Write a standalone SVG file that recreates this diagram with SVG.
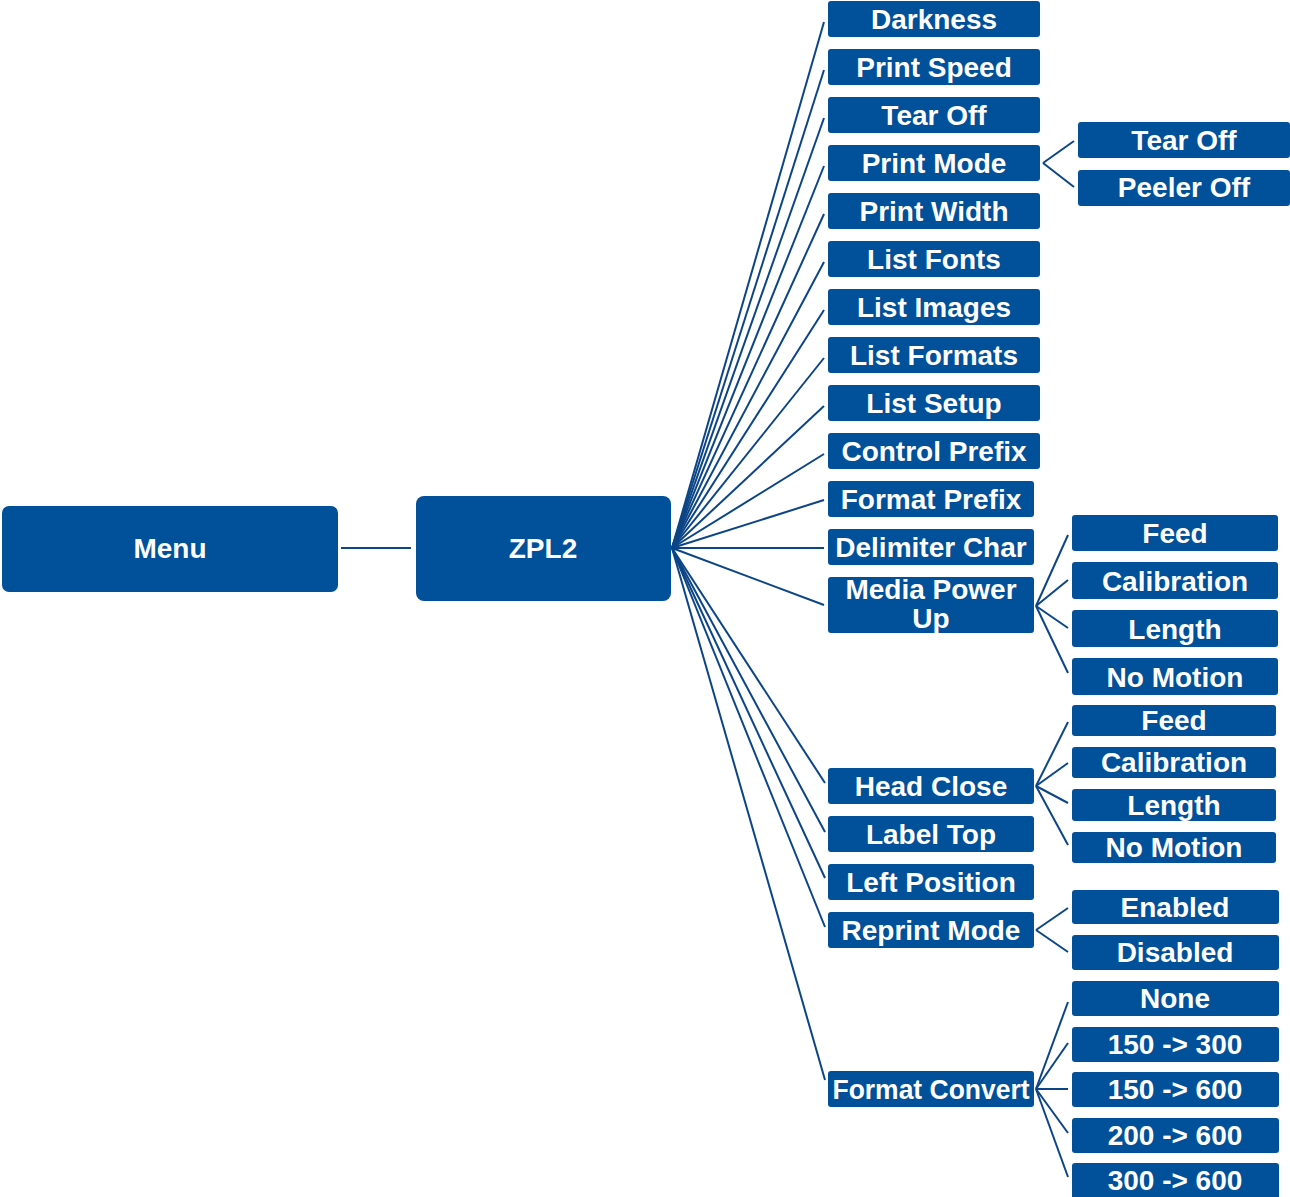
<svg xmlns="http://www.w3.org/2000/svg" width="1290" height="1197" viewBox="0 0 1290 1197">
<style>
.n{fill:#00509A}
.t{fill:#fff;font-family:"Liberation Sans",Arial,sans-serif;font-weight:bold;font-size:28px;text-anchor:middle}
.c line{stroke:#0C4586;stroke-width:2;fill:none}
</style>
<rect width="1290" height="1197" fill="#fff"/>
<g class="c" id="connectors">
<line x1="341" y1="548" x2="411" y2="548"/>
<line x1="672" y1="548" x2="824" y2="22"/>
<line x1="672" y1="548" x2="824" y2="70"/>
<line x1="672" y1="548" x2="824" y2="118"/>
<line x1="672" y1="548" x2="824" y2="166"/>
<line x1="672" y1="548" x2="824" y2="214"/>
<line x1="672" y1="548" x2="824" y2="262"/>
<line x1="672" y1="548" x2="824" y2="310"/>
<line x1="672" y1="548" x2="824" y2="358"/>
<line x1="672" y1="548" x2="824" y2="406"/>
<line x1="672" y1="548" x2="824" y2="454"/>
<line x1="672" y1="548" x2="824" y2="500"/>
<line x1="672" y1="548" x2="824" y2="548"/>
<line x1="672" y1="548" x2="824" y2="605"/>
<line x1="672" y1="548" x2="825" y2="783"/>
<line x1="672" y1="548" x2="825" y2="832"/>
<line x1="672" y1="548" x2="825" y2="878"/>
<line x1="672" y1="548" x2="825" y2="927"/>
<line x1="672" y1="548" x2="825" y2="1080"/>
<line x1="1043" y1="163" x2="1074" y2="141"/>
<line x1="1043" y1="163" x2="1074" y2="187"/>
<line x1="1036" y1="606" x2="1068" y2="535"/>
<line x1="1036" y1="606" x2="1068" y2="580"/>
<line x1="1036" y1="606" x2="1068" y2="628"/>
<line x1="1036" y1="606" x2="1068" y2="673"/>
<line x1="1036" y1="786" x2="1068" y2="722"/>
<line x1="1036" y1="786" x2="1068" y2="763"/>
<line x1="1036" y1="786" x2="1068" y2="803"/>
<line x1="1036" y1="786" x2="1068" y2="845"/>
<line x1="1036" y1="930" x2="1068" y2="908"/>
<line x1="1036" y1="930" x2="1068" y2="952"/>
<line x1="1036" y1="1089" x2="1068" y2="1002"/>
<line x1="1036" y1="1089" x2="1068" y2="1043"/>
<line x1="1036" y1="1089" x2="1068" y2="1089"/>
<line x1="1036" y1="1089" x2="1068" y2="1133"/>
<line x1="1036" y1="1089" x2="1068" y2="1177"/>
</g>
<g id="menu"><rect class="n" x="2" y="506" width="336" height="86" rx="7"/><text class="t" x="170" y="558">Menu</text></g>
<g id="zpl2"><rect class="n" x="416" y="496" width="255" height="105" rx="8"/><text class="t" x="543" y="558">ZPL2</text></g>
<g id="darkness"><rect class="n" x="828" y="1" width="212" height="36" rx="3"/><text class="t" x="934" y="29">Darkness</text></g>
<g id="print-speed"><rect class="n" x="828" y="49" width="212" height="36" rx="3"/><text class="t" x="934" y="77">Print Speed</text></g>
<g id="tear-off"><rect class="n" x="828" y="97" width="212" height="36" rx="3"/><text class="t" x="934" y="125">Tear Off</text></g>
<g id="print-mode"><rect class="n" x="828" y="145" width="212" height="36" rx="3"/><text class="t" x="934" y="173">Print Mode</text></g>
<g id="print-width"><rect class="n" x="828" y="193" width="212" height="36" rx="3"/><text class="t" x="934" y="221">Print Width</text></g>
<g id="list-fonts"><rect class="n" x="828" y="241" width="212" height="36" rx="3"/><text class="t" x="934" y="269">List Fonts</text></g>
<g id="list-images"><rect class="n" x="828" y="289" width="212" height="36" rx="3"/><text class="t" x="934" y="317">List Images</text></g>
<g id="list-formats"><rect class="n" x="828" y="337" width="212" height="36" rx="3"/><text class="t" x="934" y="365">List Formats</text></g>
<g id="list-setup"><rect class="n" x="828" y="385" width="212" height="36" rx="3"/><text class="t" x="934" y="413">List Setup</text></g>
<g id="control-prefix"><rect class="n" x="828" y="433" width="212" height="36" rx="3"/><text class="t" x="934" y="461">Control Prefix</text></g>
<g id="format-prefix"><rect class="n" x="828" y="481" width="206" height="36" rx="3"/><text class="t" x="931" y="509">Format Prefix</text></g>
<g id="delimiter-char"><rect class="n" x="828" y="529" width="206" height="36" rx="3"/><text class="t" x="931" y="557">Delimiter Char</text></g>
<g id="media-power-up"><rect class="n" x="828" y="577" width="206" height="56" rx="3"/><text class="t" x="931" y="599">Media Power</text><text class="t" x="931" y="628">Up</text></g>
<g id="head-close"><rect class="n" x="828" y="768" width="206" height="36" rx="3"/><text class="t" x="931" y="796">Head Close</text></g>
<g id="label-top"><rect class="n" x="828" y="816" width="206" height="36" rx="3"/><text class="t" x="931" y="844">Label Top</text></g>
<g id="left-position"><rect class="n" x="828" y="864" width="206" height="36" rx="3"/><text class="t" x="931" y="892">Left Position</text></g>
<g id="reprint-mode"><rect class="n" x="828" y="912" width="206" height="36" rx="3"/><text class="t" x="931" y="940">Reprint Mode</text></g>
<g id="format-convert"><rect class="n" x="828" y="1071" width="206" height="36" rx="3"/><text class="t" x="931" y="1099" textLength="197" lengthAdjust="spacingAndGlyphs">Format Convert</text></g>
<g id="pm-tear-off"><rect class="n" x="1078" y="122" width="212" height="36" rx="3"/><text class="t" x="1184" y="150">Tear Off</text></g>
<g id="pm-peeler-off"><rect class="n" x="1078" y="170" width="212" height="36" rx="3"/><text class="t" x="1184" y="197">Peeler Off</text></g>
<g id="mpu-feed"><rect class="n" x="1072" y="515" width="206" height="36" rx="3"/><text class="t" x="1175" y="543">Feed</text></g>
<g id="mpu-calibration"><rect class="n" x="1072" y="562" width="206" height="37" rx="3"/><text class="t" x="1175" y="591">Calibration</text></g>
<g id="mpu-length"><rect class="n" x="1072" y="610" width="206" height="37" rx="3"/><text class="t" x="1175" y="639">Length</text></g>
<g id="mpu-no-motion"><rect class="n" x="1072" y="658" width="206" height="37" rx="3"/><text class="t" x="1175" y="687">No Motion</text></g>
<g id="hc-feed"><rect class="n" x="1072" y="705" width="204" height="31" rx="3"/><text class="t" x="1174" y="730">Feed</text></g>
<g id="hc-calibration"><rect class="n" x="1072" y="747" width="204" height="31" rx="3"/><text class="t" x="1174" y="772">Calibration</text></g>
<g id="hc-length"><rect class="n" x="1072" y="789" width="204" height="32" rx="3"/><text class="t" x="1174" y="815">Length</text></g>
<g id="hc-no-motion"><rect class="n" x="1072" y="832" width="204" height="31" rx="3"/><text class="t" x="1174" y="857">No Motion</text></g>
<g id="rm-enabled"><rect class="n" x="1072" y="890" width="207" height="34" rx="3"/><text class="t" x="1175" y="917">Enabled</text></g>
<g id="rm-disabled"><rect class="n" x="1072" y="935" width="207" height="35" rx="3"/><text class="t" x="1175" y="962">Disabled</text></g>
<g id="fc-none"><rect class="n" x="1072" y="981" width="207" height="35" rx="3"/><text class="t" x="1175" y="1008">None</text></g>
<g id="fc-150-300"><rect class="n" x="1072" y="1027" width="207" height="35" rx="3"/><text class="t" x="1175" y="1054">150 -&gt; 300</text></g>
<g id="fc-150-600"><rect class="n" x="1072" y="1072" width="207" height="35" rx="3"/><text class="t" x="1175" y="1099">150 -&gt; 600</text></g>
<g id="fc-200-600"><rect class="n" x="1072" y="1118" width="207" height="35" rx="3"/><text class="t" x="1175" y="1145">200 -&gt; 600</text></g>
<g id="fc-300-600"><rect class="n" x="1072" y="1163" width="207" height="40" rx="3"/><text class="t" x="1175" y="1190">300 -&gt; 600</text></g>
</svg>
